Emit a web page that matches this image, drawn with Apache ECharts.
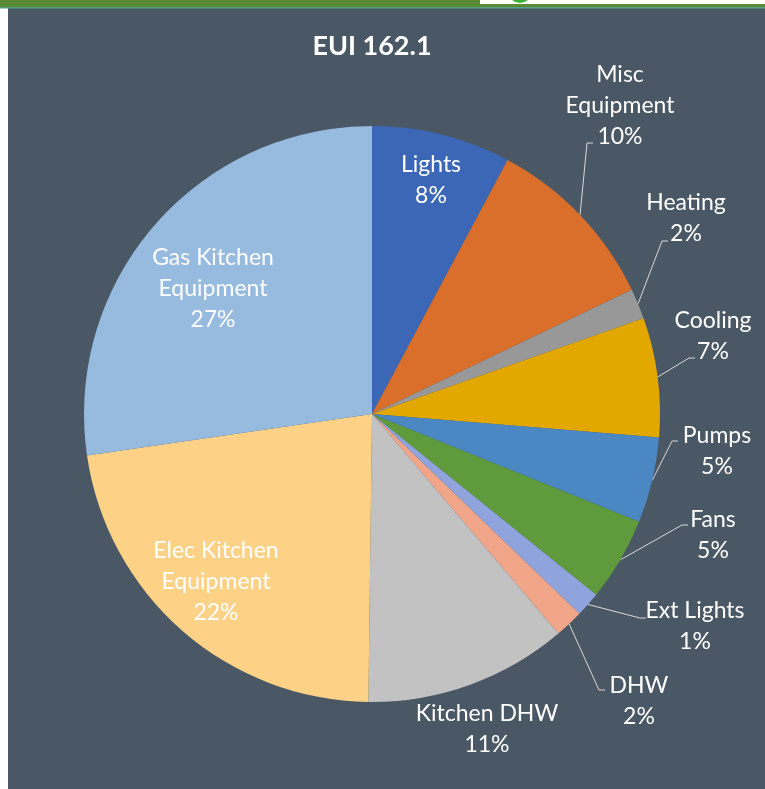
<!DOCTYPE html>
<html>
<head>
<meta charset="utf-8">
<title>EUI 162.1</title>
<script src="https://cdn.jsdelivr.net/npm/echarts@6/dist/echarts.min.js"></script>
<style>
  html, body { margin: 0; padding: 0; background: #ffffff; }
  #chart { width: 765px; height: 789px; }
</style>
</head>
<body>
<div id="chart"></div>
<script>
// End-use categories, in drawing order (clockwise from 12 o'clock)
const categories = [
  'Lights', 'Misc Equipment', 'Heating', 'Cooling', 'Pumps', 'Fans',
  'Ext Lights', 'DHW', 'Kitchen DHW', 'Elec Kitchen Equipment', 'Gas Kitchen Equipment'
];
// Share of total site EUI, percent
const shares = [7.8, 10.1, 1.7, 6.7, 4.8, 4.7, 1.4, 1.6, 11.4, 22.5, 27.3];
// Text shown for each category (with line breaks)
const labelText = [
  'Lights', 'Misc\nEquipment', 'Heating', 'Cooling', 'Pumps', 'Fans',
  'Ext Lights', 'DHW', 'Kitchen DHW', 'Elec Kitchen\nEquipment', 'Gas Kitchen\nEquipment'
];
// Rounded percentages printed on the labels
const percentText = ['8%', '10%', '2%', '7%', '5%', '5%', '1%', '2%', '11%', '22%', '27%'];
const titleText = 'EUI 162.1';

// Slice colours
const colors = {
  'Lights': '#3c67b6',
  'Misc Equipment': '#d96f2a',
  'Heating': '#989898',
  'Cooling': '#e3a800',
  'Pumps': '#4b87c2',
  'Fans': '#5f9a3c',
  'Ext Lights': '#8fa3dd',
  'DHW': '#f1a68a',
  'Kitchen DHW': '#c2c2c2',
  'Elec Kitchen Equipment': '#fdd287',
  'Gas Kitchen Equipment': '#97badf'
};

// Label placement: text block centre, and where the leader line meets the label
const labelPlacement = {
  'Lights':                 { at: [431, 180] },
  'Misc Equipment':         { at: [620, 106], tip: [593, 143] },
  'Heating':                { at: [686, 218], tip: [668, 241] },
  'Cooling':                { at: [713, 336], tip: [695, 358] },
  'Pumps':                  { at: [717, 451], tip: [678, 441] },
  'Fans':                   { at: [713, 535], tip: [688, 525] },
  'Ext Lights':             { at: [695, 626], tip: [646, 618] },
  'DHW':                    { at: [639, 701], tip: [605, 690] },
  'Kitchen DHW':            { at: [487, 729] },
  'Elec Kitchen Equipment': { at: [216, 582] },
  'Gas Kitchen Equipment':  { at: [213, 289] }
};
const insideLabels = ['Lights', 'Elec Kitchen Equipment', 'Gas Kitchen Equipment'];

const pieData = categories.map((name, i) => {
  const inside = insideLabels.includes(name);
  const hasLeader = !!labelPlacement[name].tip;
  return {
    name: name,
    value: shares[i],
    itemStyle: { color: colors[name] },
    label: { position: inside ? 'inside' : 'outside' },
    labelLine: { show: hasLeader }
  };
});

const chart = echarts.init(document.getElementById('chart'), null, { renderer: 'canvas' });

chart.setOption({
  backgroundColor: '#ffffff',
  animation: false,
  graphic: [
    // slate panel
    { type: 'rect', silent: true, z: -10, shape: { x: 8, y: 8, width: 757, height: 781 }, style: { fill: '#4a5764' } },
    // green header band
    { type: 'rect', silent: true, z: -9, shape: { x: 0, y: 0, width: 765, height: 7 }, style: { fill: '#5b8a35' } },
    { type: 'rect', silent: true, z: -9, shape: { x: 0, y: 7, width: 765, height: 1.5 }, style: { fill: '#4f9e86' } },
    // logo strip in the header
    { type: 'rect', silent: true, z: -8, shape: { x: 480, y: 0, width: 285, height: 4 }, style: { fill: '#ffffff' } },
    { type: 'circle', silent: true, z: -7, shape: { cx: 520, cy: -9, r: 12 }, style: { fill: '#3cb034' } },
    // title
    {
      type: 'text', silent: true, z: 10,
      x: 372, y: 46,
      style: {
        text: titleText,
        fill: '#ffffff',
        font: 'bold 27px Lato',
        align: 'center',
        verticalAlign: 'middle'
      }
    }
  ],
  series: [{
    type: 'pie',
    center: [372, 414],
    radius: 288,
    startAngle: 90,
    clockwise: true,
    avoidLabelOverlap: false,
    silent: true,
    itemStyle: { borderWidth: 0 },
    label: {
      show: true,
      color: '#ffffff',
      fontFamily: 'Lato',
      fontSize: 23,
      lineHeight: 31,
      align: 'center',
      textBorderWidth: 0,
      formatter: function (p) {
        return labelText[p.dataIndex] + '\n' + percentText[p.dataIndex];
      }
    },
    labelLine: {
      lineStyle: { color: '#d9d9d9', width: 1 }
    },
    labelLayout: function (params) {
      const name = categories[params.dataIndex];
      const place = labelPlacement[name];
      const out = {
        x: place.at[0],
        y: place.at[1],
        align: 'center',
        verticalAlign: 'middle'
      };
      if (place.tip && params.labelLinePoints) {
        const start = params.labelLinePoints[0];
        out.labelLinePoints = [
          [start[0], start[1]],
          [place.tip[0] - 6, place.tip[1]],
          [place.tip[0], place.tip[1]]
        ];
      }
      return out;
    },
    data: pieData
  }]
});
</script>
</body>
</html>
